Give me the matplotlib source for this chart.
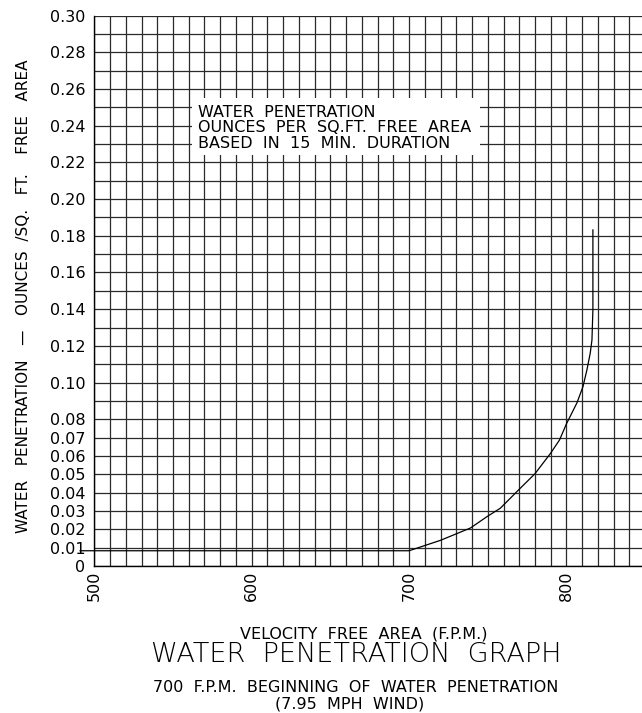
import matplotlib
matplotlib.use("Agg")
import matplotlib.pyplot as plt
from matplotlib.patches import Rectangle

# Data
velocity = [491, 700, 720, 739, 749.5, 758, 769.5, 780, 789.7, 795.6, 800, 806.7,
            810.5, 813.0, 815.1, 816.2, 816.8, 816.8]
penetration = [0.0083, 0.0083, 0.0140, 0.0207, 0.0269, 0.0315, 0.0414, 0.0503, 0.0612,
               0.0687, 0.0775, 0.0890, 0.0978, 0.1069, 0.1160, 0.1232, 0.1396, 0.1832]

y_grid = [round(0.01 * i, 2) for i in range(0, 31)]
y_labeled = [0.0, 0.01, 0.02, 0.03, 0.04, 0.05, 0.06, 0.07, 0.08, 0.10, 0.12, 0.14, 0.16,
             0.18, 0.20, 0.22, 0.24, 0.26, 0.28, 0.30]
x_grid = list(range(500, 850, 10))
x_labeled = [500, 600, 700, 800]

plt.rcParams['font.family'] = ['DejaVu Sans']

fig = plt.figure(figsize=(6.42, 7.13), dpi=100)
ax = fig.add_axes([0.1469, 0.2062, 0.8531, 0.7718])
ax.set_xlim(500, 848)
ax.set_ylim(0, 0.30)

ax.set_yticks(y_grid)
ylabels = []
for v in y_grid:
    if any(abs(v - l) < 1e-9 for l in y_labeled):
        ylabels.append("0" if v == 0 else f"{v:.2f}")
    else:
        ylabels.append("")
ax.set_yticklabels(ylabels, fontsize=11.5)
ax.set_xticks(x_grid)
ax.set_xticklabels([str(v) if v in x_labeled else "" for v in x_grid], rotation=90, fontsize=11.5)
ax.tick_params(axis='y', length=0, pad=6.5)
ax.tick_params(axis='x', length=0, pad=3.5)

ax.grid(True, color='#2a2a2a', linewidth=0.9)
ax.set_axisbelow(True)
for s in ['top', 'right']:
    ax.spines[s].set_visible(False)
for s in ['left', 'bottom']:
    ax.spines[s].set_color('black')
    ax.spines[s].set_linewidth(1.0)

ax.plot(velocity, penetration, color='black', linewidth=0.9, clip_on=False, zorder=3)

ax.add_patch(Rectangle((562, 0.2241), 183, 0.0311, facecolor='white', edgecolor='none', zorder=2))
ax.text(566, 0.2388, "WATER  PENETRATION\nOUNCES  PER  SQ.FT.  FREE  AREA\nBASED  IN  15  MIN.  DURATION",
        ha='left', va='center', fontsize=11.5, linespacing=1.06, zorder=4)

fig.text(24 / 642, 1 - 296 / 713,
         "WATER   PENETRATION   \u2014   OUNCES  /SQ.   FT.    FREE   AREA",
         rotation=90, ha='center', va='center', fontsize=11)

fig.text(363.5 / 642, 1 - 634 / 713, "VELOCITY  FREE  AREA  (F.P.M.)", ha='center', va='center',
         fontsize=11.5)
fig.text(356 / 642, 1 - 654 / 713, "WATER  PENETRATION  GRAPH", ha='center', va='center',
         fontsize=19.5, fontweight='light')
fig.text(356 / 642, 1 - 687 / 713, "700  F.P.M.  BEGINNING  OF  WATER  PENETRATION", ha='center',
         va='center', fontsize=11.5)
fig.text(350 / 642, 1 - 704 / 713, "(7.95  MPH  WIND)", ha='center', va='center', fontsize=11.5)

fig.savefig("out.png", dpi=100)
